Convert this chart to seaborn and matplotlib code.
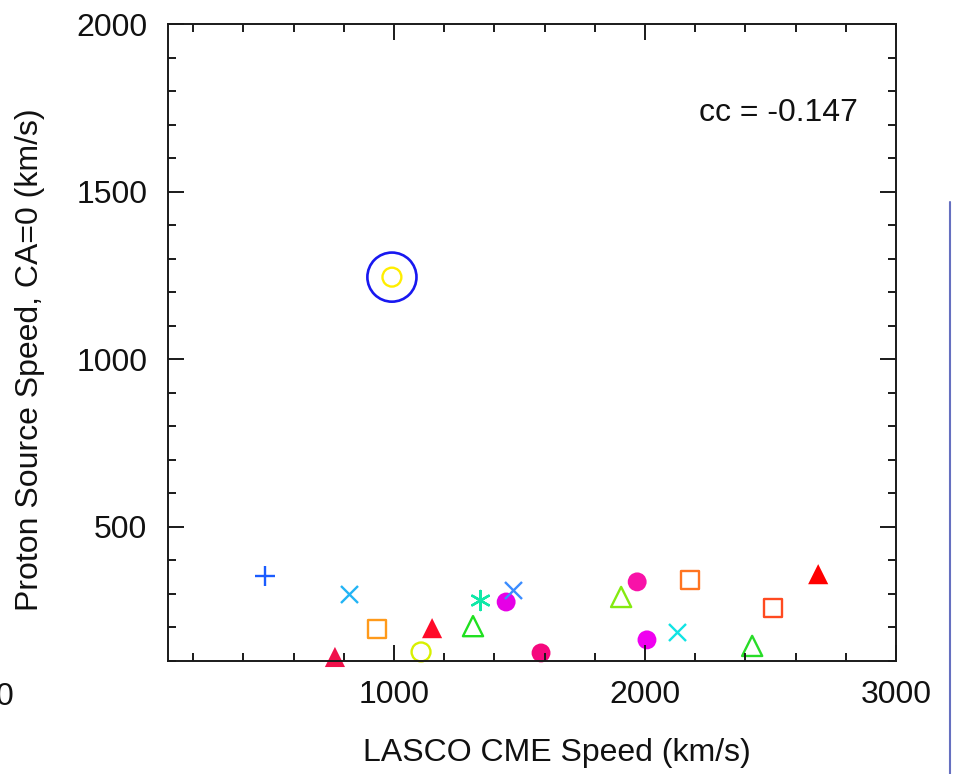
import matplotlib
matplotlib.use("Agg")
import matplotlib.pyplot as plt
from matplotlib.lines import Line2D
from matplotlib.ticker import MultipleLocator, FixedLocator
import seaborn as sns
import pandas as pd

# Event list: LASCO CME speed vs. proton source speed (CA=0)
cme_speed = [486, 821, 933, 765, 1108, 1152, 1315, 1343, 1447, 1475,
             1586, 1905, 1969, 2008, 2128, 2180, 2427, 2510, 2690, 992]
proton_speed = [353, 300, 195, 112, 127, 198, 204, 282, 276, 312,
                124, 291, 336, 163, 186, 342, 145, 258, 359, 1245]
marker_kind = ["+", "x", "s", "^", "o", "^", "^", "*", "o", "x",
               "o", "^", "o", "o", "x", "s", "^", "s", "^", "o"]
filled = [True, True, False, True, False, True, False, True, True, True,
          True, False, True, True, True, False, False, False, True, False]
colors = ["#1a5cff", "#22b4f5", "#ff9a1a", "#f0104a", "#d8f000", "#ff0a28",
          "#20e020", "#10e8a8", "#e600e6", "#3a8cff", "#f5087e", "#84ea10",
          "#f812a8", "#f000f0", "#10e4e4", "#ff7420", "#28dc28", "#ff4a20",
          "#ff0000", "#ffee00"]
cc_value = -0.147
highlight_index = 19

events = pd.DataFrame({"cme": cme_speed, "proton": proton_speed,
                       "marker": marker_kind, "filled": filled, "color": colors})

sns.set_theme(style="ticks")
plt.rcParams["font.family"] = ["Liberation Sans", "DejaVu Sans"]
plt.rcParams["axes.axisbelow"] = False

FS = 23

fig = plt.figure(figsize=(9.57, 7.74), dpi=100)
ax = fig.add_axes([168 / 957, 1 - 661 / 774, 728 / 957, 637 / 774])

sizes = {"o": 185, "s": 175, "^": 210, "x": 150, "+": 200, "*": 190}
for _, ev in events.iterrows():
    m = ev["marker"]
    if m in ("x", "+"):
        sns.scatterplot(x=[ev["cme"]], y=[ev["proton"]], marker=m, s=sizes[m],
                        color=ev["color"], linewidth=1.7, ax=ax, clip_on=False,
                        zorder=1)
    elif m == "*":
        sns.scatterplot(x=[ev["cme"]], y=[ev["proton"]], marker=(6, 2, 0), s=sizes[m],
                        color=ev["color"], linewidth=1.7, ax=ax, clip_on=False,
                        zorder=1)
    elif ev["filled"]:
        sns.scatterplot(x=[ev["cme"]], y=[ev["proton"]], marker=m, s=sizes[m],
                        color=ev["color"], edgecolor="none", ax=ax,
                        clip_on=False, zorder=1)
    else:
        sns.scatterplot(x=[ev["cme"]], y=[ev["proton"]], marker=m, s=sizes[m],
                        facecolors="none", edgecolor=ev["color"], linewidth=1.7,
                        ax=ax, clip_on=False, zorder=1)

# ring around the outlier event
hl = events.iloc[highlight_index]
sns.scatterplot(x=[hl["cme"]], y=[hl["proton"]], marker="o", s=1250,
                facecolors="none", edgecolor="#1818f0", linewidth=1.9,
                ax=ax, clip_on=False, zorder=1)

ax.set_xlim(100, 3000)
ax.set_ylim(100, 2000)

ax.xaxis.set_major_locator(FixedLocator([1000, 2000, 3000]))
ax.xaxis.set_minor_locator(MultipleLocator(200))
ax.yaxis.set_major_locator(MultipleLocator(500))
ax.yaxis.set_minor_locator(MultipleLocator(100))

ax.tick_params(which="both", direction="in", top=True, right=True,
               color="#1a1a1a", width=1.4, labelsize=FS, labelcolor="#111111")
ax.tick_params(which="major", length=11.5)
ax.tick_params(which="minor", length=5.8)
ax.tick_params(axis="x", which="major", pad=14)
ax.tick_params(axis="y", which="major", pad=15)
for sp in ax.spines.values():
    sp.set_linewidth(1.4)
    sp.set_color("#1a1a1a")

ax.set_xlabel("LASCO CME Speed (km/s)", fontsize=FS, color="#111111")
ax.set_ylabel("Proton Source Speed, CA=0 (km/s)", fontsize=FS, color="#111111")
ax.xaxis.label.set_va("center")
ax.yaxis.label.set_va("center")
ax.xaxis.set_label_coords((557 - 168) / 728, (661 - 753) / 637)
ax.yaxis.set_label_coords((30 - 168) / 728, (661 - 360) / 637)

ax.text((858 - 168) / 728, (661 - 113) / 637, f"cc = {cc_value}",
        transform=ax.transAxes, ha="right", va="center", fontsize=FS,
        color="#111111")

# stray zero label at the far left of the x axis
fig.text(5 / 957, 1 - 697 / 774, "0", ha="center", va="center", fontsize=FS,
         color="#111111")

# thin vertical rule at the right margin
fig.add_artist(Line2D([950 / 957, 950 / 957], [0, 1 - 202 / 774],
                      transform=fig.transFigure, color="#6670c0", linewidth=1.5))

fig.savefig("out.png", dpi=100)
